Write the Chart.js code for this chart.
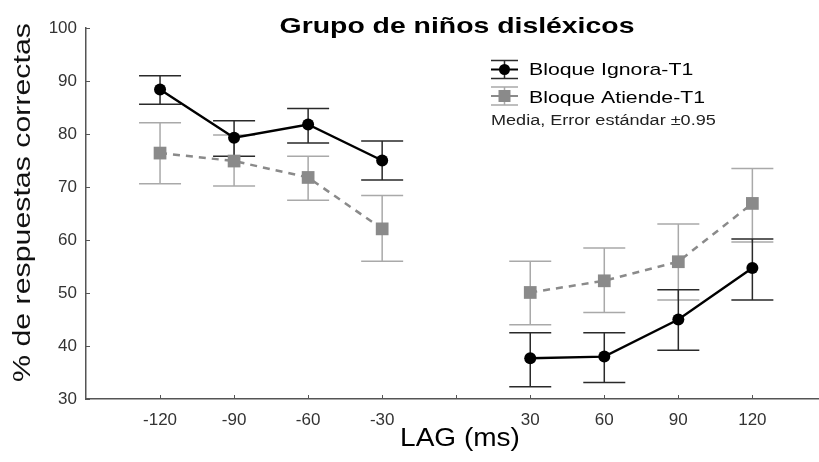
<!DOCTYPE html>
<html>
<head>
<meta charset="utf-8">
<script src="https://cdn.jsdelivr.net/npm/chart.js@4/dist/chart.umd.min.js"></script>
<style>
  html, body { margin: 0; padding: 0; background: #fff; overflow: hidden; }
  #wrap { position: relative; width: 819px; height: 462px; }
</style>
</head>
<body>
<div id="wrap"><canvas id="chart" width="819" height="462"></canvas></div>
<script>
"use strict";

// Data
const lags = [-120, -90, -60, -30, 30, 60, 90, 120];

const ignoraMean = [88.4, 79.3, 81.8, 75.0, 37.7, 38.0, 45.0, 54.7];
const ignoraHigh = [91.0, 82.5, 84.8, 78.7, 42.5, 42.5, 50.6, 60.2];
const ignoraLow  = [85.6, 75.8, 78.3, 71.3, 32.3, 33.1, 39.2, 48.7];

const atiendeMean = [76.4, 74.9, 71.8, 62.1, 50.1, 52.3, 55.9, 66.9];
const atiendeHigh = [82.1, 79.8, 75.8, 68.4, 56.0, 58.5, 63.0, 73.5];
const atiendeLow  = [70.6, 70.2, 67.5, 56.0, 44.0, 46.3, 48.7, 59.6];

const yTicks = [30, 40, 50, 60, 70, 80, 90, 100];

const titleText = "Grupo de niños disléxicos";
const seriesNames = ["Bloque Ignora-T1", "Bloque Atiende-T1"];
const noteText = "Media, Error estándar ±0.95";
const xTitle = "LAG (ms)";
const yTitle = "% de respuestas correctas";

(() => {
  const FONT = "'Liberation Sans', Arial, sans-serif";
  const BLACK = "#000";
  const BLACK_ERR = "#2a2a2a";
  const GRAY = "#8a8a8a";
  const GRAY_ERR = "#a9a9a9";
  const AXIS = "#555";

  // negative lags sit on slots 0..3, an empty slot at 4 (the break), positives on 5..8
  const slotOf = (i) => (lags[i] < 0 ? i : i + 1);
  const labelOfSlot = (v) => {
    if (v < 4) return String(lags[v]);
    if (v > 4) return String(lags[v - 1]);
    return "";
  };

  // insert a null at the break so the lines stop between -30 and 30
  function toPoints(means) {
    const pts = [];
    means.forEach((m, i) => {
      if (i === 4) pts.push({ x: 4, y: null });
      pts.push({ x: slotOf(i), y: m });
    });
    return pts;
  }

  function stretchText(ctx, text, x, y, sx, align) {
    ctx.save();
    ctx.translate(x, y);
    ctx.scale(sx, 1);
    ctx.textAlign = align;
    ctx.textBaseline = "alphabetic";
    ctx.fillText(text, 0, 0);
    ctx.restore();
  }

  function errorBar(ctx, x, yHi, yLo, half, color, width) {
    ctx.save();
    ctx.strokeStyle = color;
    ctx.lineWidth = width;
    ctx.setLineDash([]);
    ctx.beginPath();
    ctx.moveTo(x, yHi); ctx.lineTo(x, yLo);
    ctx.moveTo(x - half, yHi); ctx.lineTo(x + half, yHi);
    ctx.moveTo(x - half, yLo); ctx.lineTo(x + half, yLo);
    ctx.stroke();
    ctx.restore();
  }

  const errorBarsPlugin = {
    id: "errorBars",
    beforeDatasetsDraw(chart) {
      const { ctx, scales: { x, y } } = chart;
      const sets = [
        [atiendeHigh, atiendeLow, GRAY_ERR],
        [ignoraHigh, ignoraLow, BLACK_ERR],
      ];
      sets.forEach(([hi, lo, color]) => {
        hi.forEach((h, i) => {
          const px = x.getPixelForValue(slotOf(i));
          errorBar(ctx, px, y.getPixelForValue(h), y.getPixelForValue(lo[i]), 21, color, 1.5);
        });
      });
    },
  };

  // ticks drawn inward, like the original
  const innerTicksPlugin = {
    id: "innerTicks",
    afterDraw(chart) {
      const { ctx, scales: { x, y }, chartArea } = chart;
      ctx.save();
      ctx.strokeStyle = AXIS;
      ctx.lineWidth = 1;
      ctx.beginPath();
      y.ticks.forEach((t) => {
        const py = Math.round(y.getPixelForValue(t.value)) + 0.5;
        ctx.moveTo(chartArea.left, py); ctx.lineTo(chartArea.left + 4, py);
      });
      x.ticks.forEach((t) => {
        const px = Math.round(x.getPixelForValue(t.value)) + 0.5;
        ctx.moveTo(px, chartArea.bottom); ctx.lineTo(px, chartArea.bottom - 4);
      });
      ctx.stroke();
      ctx.restore();
    },
  };

  const textPlugin = {
    id: "texts",
    afterDraw(chart) {
      const { ctx } = chart;

      // title
      ctx.fillStyle = "#000";
      ctx.font = `bold 22px ${FONT}`;
      stretchText(ctx, titleText, 457, 33, 1.29, "center");

      // legend symbols
      const sym = (cy, color, errColor, square) => {
        errorBar(ctx, 504.5, cy - 9, cy + 9, 13.5, errColor, 1.5);
        ctx.save();
        ctx.strokeStyle = color;
        ctx.lineWidth = 2;
        ctx.beginPath();
        ctx.moveTo(491, cy); ctx.lineTo(518, cy);
        ctx.stroke();
        ctx.fillStyle = color;
        ctx.beginPath();
        if (square) ctx.rect(498.5, cy - 6, 12, 12);
        else ctx.arc(504.5, cy, 5.5, 0, Math.PI * 2);
        ctx.fill();
        ctx.restore();
      };
      sym(69.5, BLACK, BLACK_ERR, false);
      sym(96, GRAY, GRAY_ERR, true);

      ctx.fillStyle = "#000";
      ctx.font = `17px ${FONT}`;
      stretchText(ctx, seriesNames[0], 529, 75, 1.25, "left");
      stretchText(ctx, seriesNames[1], 529, 103, 1.25, "left");

      ctx.fillStyle = "#222";
      ctx.font = `14px ${FONT}`;
      stretchText(ctx, noteText, 491, 125, 1.29, "left");

      // axis titles
      ctx.fillStyle = "#000";
      ctx.font = `25px ${FONT}`;
      stretchText(ctx, xTitle, 460, 446, 1.12, "center");

      ctx.fillStyle = "#111";
      ctx.font = `23.5px ${FONT}`;
      ctx.save();
      ctx.translate(30, 202.5);
      ctx.rotate(-Math.PI / 2);
      stretchText(ctx, yTitle, 0, 0, 1.29, "center");
      ctx.restore();
    },
  };

  const ctx = document.getElementById("chart").getContext("2d");

  new Chart(ctx, {
    type: "line",
    data: {
      datasets: [
        {
          label: seriesNames[0],
          data: toPoints(ignoraMean),
          borderColor: BLACK,
          backgroundColor: BLACK,
          borderWidth: 2.4,
          pointStyle: "circle",
          pointRadius: 6,
          pointBackgroundColor: BLACK,
          pointBorderColor: BLACK,
          pointBorderWidth: 0,
          spanGaps: false,
          tension: 0,
        },
        {
          label: seriesNames[1],
          data: toPoints(atiendeMean),
          borderColor: GRAY,
          backgroundColor: GRAY,
          borderWidth: 2.5,
          borderDash: [7, 6],
          pointStyle: "rect",
          pointRadius: 9,
          pointBackgroundColor: GRAY,
          pointBorderColor: GRAY,
          pointBorderWidth: 0,
          spanGaps: false,
          tension: 0,
        },
      ],
    },
    options: {
      responsive: false,
      animation: false,
      parsing: true,
      layout: { autoPadding: false, padding: { top: 28, left: 0, right: 0, bottom: 0 } },
      plugins: {
        legend: { display: false },
        title: { display: false },
        tooltip: { enabled: false },
      },
      scales: {
        x: {
          type: "linear",
          min: -1,
          max: 8.9,
          afterBuildTicks: (s) => {
            s.ticks = [0, 1, 2, 3, 4, 5, 6, 7, 8].map((v) => ({ value: v }));
          },
          afterFit: (s) => {
            s.height = 63;
            s.paddingLeft = 0;
            s.paddingRight = 0;
          },
          grid: { drawOnChartArea: false, drawTicks: false },
          border: { display: true, color: AXIS, width: 1.5 },
          ticks: {
            autoSkip: false,
            maxRotation: 0,
            padding: 11,
            color: "#333",
            font: { family: FONT, size: 17 },
            callback: (v) => labelOfSlot(v),
          },
        },
        y: {
          type: "linear",
          min: 30,
          max: 100,
          afterBuildTicks: (s) => {
            s.ticks = yTicks.map((v) => ({ value: v }));
          },
          afterFit: (s) => {
            s.width = 86;
            s.paddingTop = 0;
            s.paddingBottom = 0;
          },
          grid: { drawOnChartArea: false, drawTicks: false },
          border: { display: true, color: AXIS, width: 1.5 },
          ticks: {
            padding: 9,
            color: "#333",
            font: { family: FONT, size: 17 },
          },
        },
      },
    },
    plugins: [errorBarsPlugin, innerTicksPlugin, textPlugin],
  });
})();
</script>
</body>
</html>
